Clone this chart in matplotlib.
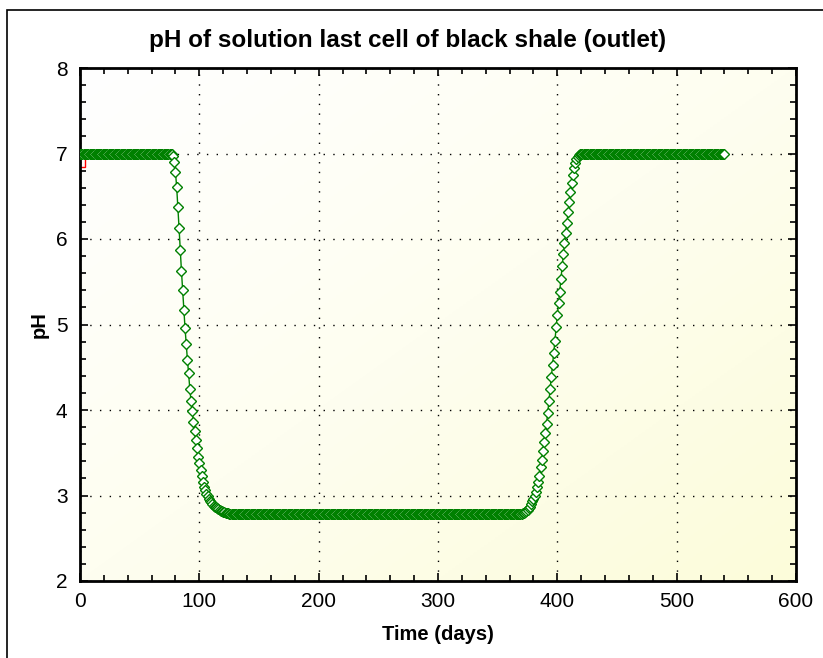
import numpy as np
import matplotlib.pyplot as plt
import matplotlib.patches as patches
from matplotlib.ticker import MultipleLocator
from matplotlib.colors import LinearSegmentedColormap

plt.rcParams['font.family'] = ['Liberation Sans', 'DejaVu Sans']

# pH, one value per day (day 0 .. 540)
ph_start = [7.0] * 77
ph_drop = [6.99, 6.97, 6.90, 6.78, 6.61, 6.38, 6.13, 5.87, 5.63, 5.40,
           5.17, 4.96, 4.77, 4.59, 4.43, 4.25, 4.11, 3.99, 3.86, 3.75,
           3.65, 3.55, 3.45, 3.38, 3.30, 3.23, 3.16, 3.10, 3.06, 3.02,
           2.99, 2.96, 2.94, 2.92, 2.90, 2.88, 2.87, 2.86, 2.85, 2.84,
           2.83, 2.82, 2.815, 2.81, 2.805, 2.80, 2.795, 2.79, 2.787, 2.785,
           2.783, 2.782]
ph_low = [2.78] * 241
ph_rise = [2.785, 2.79, 2.80, 2.81, 2.82, 2.835, 2.85, 2.87, 2.90, 2.93,
           2.96, 2.99, 3.04, 3.10, 3.16, 3.23, 3.33, 3.42, 3.52, 3.62,
           3.73, 3.84, 3.97, 4.11, 4.25, 4.39, 4.53, 4.67, 4.81, 4.97,
           5.11, 5.25, 5.38, 5.53, 5.68, 5.82, 5.95, 6.07, 6.19, 6.31,
           6.43, 6.55, 6.66, 6.75, 6.83, 6.89, 6.93, 6.96, 6.98, 6.99,
           6.995, 6.998]
ph_end = [7.0] * 119
ph = ph_start + ph_drop + ph_low + ph_rise + ph_end
days = np.arange(len(ph))

# red series: a single point at t = 0
red_t = [0]
red_ph = [6.9]

fig = plt.figure(figsize=(8.23, 6.58), dpi=100)
ax = fig.add_axes([80 / 823, 1 - 581 / 658, 716 / 823, 513 / 658])

# outer frame
frame = patches.Rectangle((7 / 823, -0.1), 1.2, 1.1 - 10 / 658,
                          transform=fig.transFigure, fill=False,
                          edgecolor='black', linewidth=1.2)
fig.patches.append(frame)

# background gradient, white top-left to pale yellow bottom-right
cmap = LinearSegmentedColormap.from_list('bg', ['#ffffff', '#fefef0', '#fcfcda'])
gx, gy = np.meshgrid(np.linspace(0, 1, 200), np.linspace(0, 1, 200))
ax.imshow((gx + gy) / 2, cmap=cmap, extent=[0, 1, 0, 1], transform=ax.transAxes,
          aspect='auto', origin='upper', zorder=0)

ax.plot(days, ph, color='#008000', linewidth=1, marker='D', markersize=5.5,
        markerfacecolor='white', markeredgecolor='#008000', markeredgewidth=1, zorder=3)
ax.plot(red_t, red_ph, linestyle='none', marker='s', markersize=6.5,
        markerfacecolor='none', markeredgecolor='red', markeredgewidth=1, zorder=2)

ax.set_xlim(0, 600)
ax.set_ylim(2, 8)
ax.xaxis.set_major_locator(MultipleLocator(100))
ax.xaxis.set_minor_locator(MultipleLocator(20))
ax.yaxis.set_major_locator(MultipleLocator(1))
ax.yaxis.set_minor_locator(MultipleLocator(0.2))
ax.tick_params(which='both', direction='in', top=True, right=True, width=1.2,
               labelsize=15)
ax.tick_params(which='major', length=6)
ax.tick_params(axis='x', which='major', pad=8)
ax.tick_params(axis='y', which='major', pad=9)
ax.tick_params(which='minor', length=4)
for s in ax.spines.values():
    s.set_linewidth(2)
ax.grid(True, which='major', color='black', linestyle=(0, (1, 6)), linewidth=1)
ax.set_axisbelow(False)

# title is centred on the figure, not on the axes
fig.text(408 / 823, 1 - 40 / 658, 'pH of solution last cell of black shale (outlet)',
         fontsize=17.5, fontweight='bold', ha='center', va='center')
ax.set_xlabel('Time (days)', fontsize=14.5, fontweight='bold', labelpad=10)
ax.set_ylabel('pH', fontsize=14.5, fontweight='bold', labelpad=5)

fig.savefig('out.png', dpi=100)
